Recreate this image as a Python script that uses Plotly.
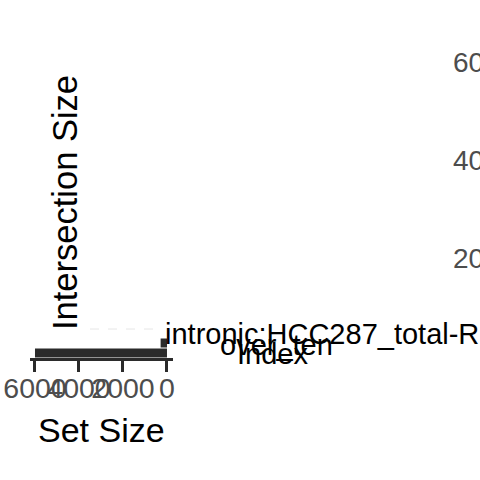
import plotly.graph_objects as go

# ---- data ----
set_names = ["over_ten", "intronic:HCC287_total-RNA"]
set_sizes = [6000, 290]
set_ticks = [0, 2000, 4000, 6000]
inter_ticks = [20, 40, 60]
matrix_labels = ["intronic:HCC287_total-RNA", "over_ten", "Index"]

W = H = 480
def px(x):
    return x / W
def py(y):
    return 1 - y / H

FONT = "Liberation Sans, Arial, sans-serif"
GREY = "#4d4d4d"
DARK = "#2b2b2b"

fig = go.Figure()

# Set size bars (reversed horizontal)
fig.add_trace(go.Bar(
    x=set_sizes, y=set_names, orientation="h",
    marker=dict(color=DARK, line=dict(width=0)),
    width=0.9, xaxis="x", yaxis="y", showlegend=False,
))

# Intersection size axis carrier (bars lie outside the visible area)
fig.add_trace(go.Scatter(
    x=[None], y=[None], xaxis="x2", yaxis="y2", showlegend=False,
))

fig.update_layout(
    width=W, height=H,
    margin=dict(l=0, r=0, t=0, b=0, autoexpand=False),
    paper_bgcolor="white", plot_bgcolor="white",
    font=dict(family=FONT),
    xaxis=dict(
        domain=[px(30), px(173)],
        range=[6227, -273],
        tickvals=set_ticks, ticktext=[str(t) for t in set_ticks],
        tickangle=0, automargin=False,
        ticks="outside", ticklen=11, tickwidth=3, tickcolor=DARK,
        showline=True, linecolor=DARK, linewidth=3,
        showgrid=False, zeroline=False,
        tickfont=dict(size=28.5, color=GREY, family=FONT),
        ticklabelstandoff=-8,
        anchor="y",
    ),
    yaxis=dict(
        domain=[py(358), py(338)],
        type="category", categoryarray=set_names,
        range=[-0.5, 1.5], automargin=False,
        showticklabels=False, ticks="", showline=False,
        showgrid=False, zeroline=False,
        anchor="x",
    ),
    xaxis2=dict(
        domain=[px(455), 1.0], range=[0, 1],
        visible=False, anchor="y2", automargin=False,
    ),
    yaxis2=dict(
        domain=[py(356), py(30)],
        range=[0, (356 - 30) / 4.9],
        tickvals=inter_ticks, ticktext=[str(t) for t in inter_ticks],
        side="right", anchor="free", position=px(452), automargin=False,
        ticks="", showline=False, showgrid=False, zeroline=False,
        tickfont=dict(size=28, color=GREY, family=FONT),
    ),
    bargap=0.1,
)

ann = []
ann.append(dict(text="Set Size", x=px(101), y=py(430), xref="paper", yref="paper",
                xanchor="center", yanchor="middle", showarrow=False,
                font=dict(size=34, color="black", family=FONT)))
ann.append(dict(text="Intersection Size", x=px(65), y=py(203), xref="paper", yref="paper",
                xanchor="center", yanchor="middle", showarrow=False, textangle=-90,
                font=dict(size=34.5, color="black", family=FONT)))
label_pos = [(163, 334), (218, 344.5), (235, 353.5)]
for lab, (lx, ly) in zip(matrix_labels, label_pos):
    ann.append(dict(text=lab, x=px(lx), y=py(ly), xref="paper", yref="paper",
                    xanchor="left", yanchor="middle", showarrow=False,
                    font=dict(size=29, color="black", family=FONT)))
fig.update_layout(annotations=ann)

fig.add_shape(type="line", x0=px(90), x1=px(158), y0=py(329), y1=py(329),
              xref="paper", yref="paper",
              line=dict(color="#e6e6e6", width=1, dash="dash"))

fig.write_html("out.html")
